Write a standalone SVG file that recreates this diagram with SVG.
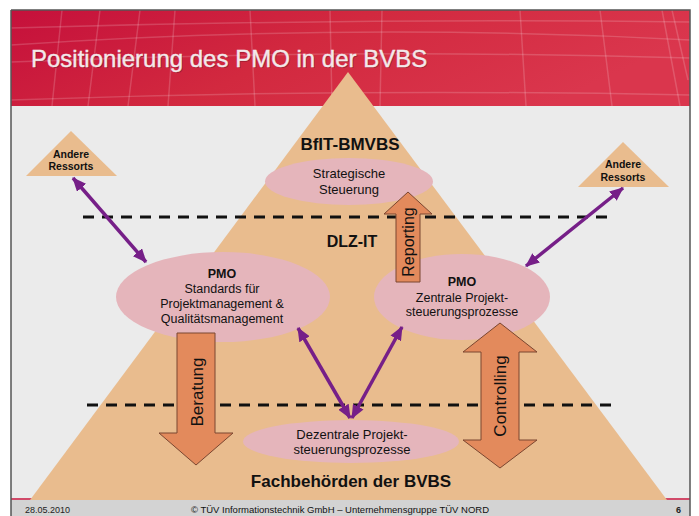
<svg xmlns="http://www.w3.org/2000/svg" width="699" height="516" viewBox="0 0 699 516">
<defs>
<linearGradient id="hdr" x1="0" y1="0" x2="1" y2="0.3">
<stop offset="0" stop-color="#c5103b"/>
<stop offset="0.5" stop-color="#d2293f"/>
<stop offset="1" stop-color="#da364d"/>
</linearGradient>
<marker id="ph" viewBox="0 0 14 12" refX="13" refY="6" markerWidth="14" markerHeight="12" markerUnits="userSpaceOnUse" orient="auto-start-reverse">
<path d="M0,0 L14,6 L0,12 z" fill="#761f88"/>
</marker>
<style>
.t{font-family:"Liberation Sans",Arial,sans-serif;fill:#111;text-anchor:middle}
.b{font-weight:bold}
.ell{fill:#e5b5bb}
.blk{fill:#e38a5c;stroke:#7a4630;stroke-width:1}
.dash{stroke:#111;stroke-width:3;stroke-dasharray:11 8;fill:none}
.pur{stroke:#761f88;stroke-width:3.5;fill:none;marker-start:url(#ph);marker-end:url(#ph)}
.grid{stroke:#ffffff;stroke-opacity:0.17;stroke-width:1.5;fill:none}
.small{fill:#e9bc8e}
</style>
</defs>
<rect x="0" y="0" width="699" height="516" fill="#ffffff"/>
<rect x="11" y="10" width="679" height="506" fill="#ebebeb"/>
<g id="header">
<rect x="11" y="10" width="679" height="96" fill="url(#hdr)"/>
<path class="grid" d="M11,45 Q350,22 690,40 M11,62 Q350,48 690,58 M11,100 Q350,88 690,95 M11,28 Q350,18 690,22"/>
<path class="grid" d="M62,10 L52,106 M100,10 L88,106 M140,10 L128,106 M175,10 L168,106 M250,10 L255,106 M330,10 L332,106 M382,10 L380,106 M520,10 L526,106 M600,10 L612,106 M662,10 L680,106 M672,10 L688,80"/>
<text x="32" y="68" font-family="'Liberation Sans',Arial,sans-serif" font-size="24" fill="#000" fill-opacity="0.25">Positionierung des PMO in der BVBS</text>
<text x="31" y="67" font-family="'Liberation Sans',Arial,sans-serif" font-size="24" fill="#f3e8ea" stroke="#f3e8ea" stroke-width="0.4">Positionierung des PMO in der BVBS</text>
</g>
<rect x="11" y="500" width="679" height="16" fill="#d3d3d3"/>
<line x1="11" y1="499" x2="690" y2="499" stroke="#c8143e" stroke-width="1.5"/>
<path d="M11,10 L11,516 M11,10 L690,10 L690,516" stroke="#555" stroke-width="1.5" fill="none"/>
<g id="pyramid">
<polygon points="348,72 667,500 30,500" fill="#e9bc8e"/>
</g>
<g id="levels">
<line class="dash" x1="83" y1="217" x2="612" y2="217"/>
<line class="dash" x1="87" y1="405" x2="613" y2="405"/>
<text class="t b" x="350" y="150" font-size="17">BfIT-BMVBS</text>
<text class="t b" x="352" y="247" font-size="16">DLZ-IT</text>
<text class="t b" x="351" y="487" font-size="17">Fachbehörden der BVBS</text>
</g>
<g id="ressorts-left">
<polygon class="small" points="71,131 117,176 26,176"/>
<text class="t b" x="71" y="158" font-size="10.5">Andere</text>
<text class="t b" x="71" y="170" font-size="10.5">Ressorts</text>
</g>
<g id="ressorts-right">
<polygon class="small" points="623,142 669,187 578,187"/>
<text class="t b" x="623" y="168" font-size="10.5">Andere</text>
<text class="t b" x="623" y="181" font-size="10.5">Ressorts</text>
</g>
<g id="strategische">
<ellipse class="ell" cx="349" cy="181.5" rx="84" ry="23.5"/>
<text class="t" x="349" y="178" font-size="13">Strategische</text>
<text class="t" x="349" y="194" font-size="13">Steuerung</text>
</g>
<g id="pmo-left">
<ellipse class="ell" cx="223" cy="297" rx="107" ry="45"/>
<text class="t b" x="222" y="278" font-size="12.5">PMO</text>
<text class="t" x="222" y="293" font-size="12.5">Standards für</text>
<text class="t" x="222" y="308" font-size="12.5">Projektmanagement &amp;</text>
<text class="t" x="222" y="323" font-size="12.5">Qualitätsmanagement</text>
</g>
<g id="pmo-right">
<ellipse class="ell" cx="462" cy="297" rx="88" ry="43"/>
<text class="t b" x="462" y="286" font-size="12.5">PMO</text>
<text class="t" x="462" y="302" font-size="12.5">Zentrale Projekt-</text>
<text class="t" x="462" y="316" font-size="12.5">steuerungsprozesse</text>
</g>
<g id="dezentrale">
<ellipse class="ell" cx="351" cy="441.5" rx="108" ry="21.5"/>
<text class="t" x="352" y="439" font-size="13">Dezentrale Projekt-</text>
<text class="t" x="352" y="454" font-size="13">steuerungsprozesse</text>
</g>
<g id="connectors">
<path class="blk" d="M396,282 L396,214 L384,214 L408,192 L432,214 L420,214 L420,282 Z"/>
<path class="blk" d="M177,333 L215,333 L215,433 L233,433 L196,465 L159,433 L177,433 Z"/>
<path class="blk" d="M500,323 L537,352 L519,352 L519,440 L537,440 L500,468 L463,440 L481,440 L481,352 L463,352 Z"/>
<line class="pur" x1="73" y1="178" x2="146" y2="262"/>
<line class="pur" x1="623" y1="188" x2="526" y2="266"/>
<line class="pur" x1="298" y1="328" x2="350" y2="418"/>
<line class="pur" x1="402" y1="327" x2="352" y2="418"/>
</g>
<g id="arrow-labels">
<text class="t" font-size="16" transform="translate(408,242) rotate(-90)" y="6">Reporting</text>
<text class="t" font-size="17" transform="translate(197,392) rotate(-90)" y="6">Beratung</text>
<text class="t" font-size="17" transform="translate(500,396) rotate(-90)" y="6">Controlling</text>
</g>
<g id="footer">
<text x="25" y="513" font-family="'Liberation Sans',Arial,sans-serif" font-size="9" fill="#222">28.05.2010</text>
<text class="t" x="340" y="513" font-size="9.5" fill="#222">© TÜV Informationstechnik GmbH – Unternehmensgruppe TÜV NORD</text>
<text x="676" y="513" font-family="'Liberation Sans',Arial,sans-serif" font-size="9" font-weight="bold" fill="#222">6</text>
</g>
</svg>
